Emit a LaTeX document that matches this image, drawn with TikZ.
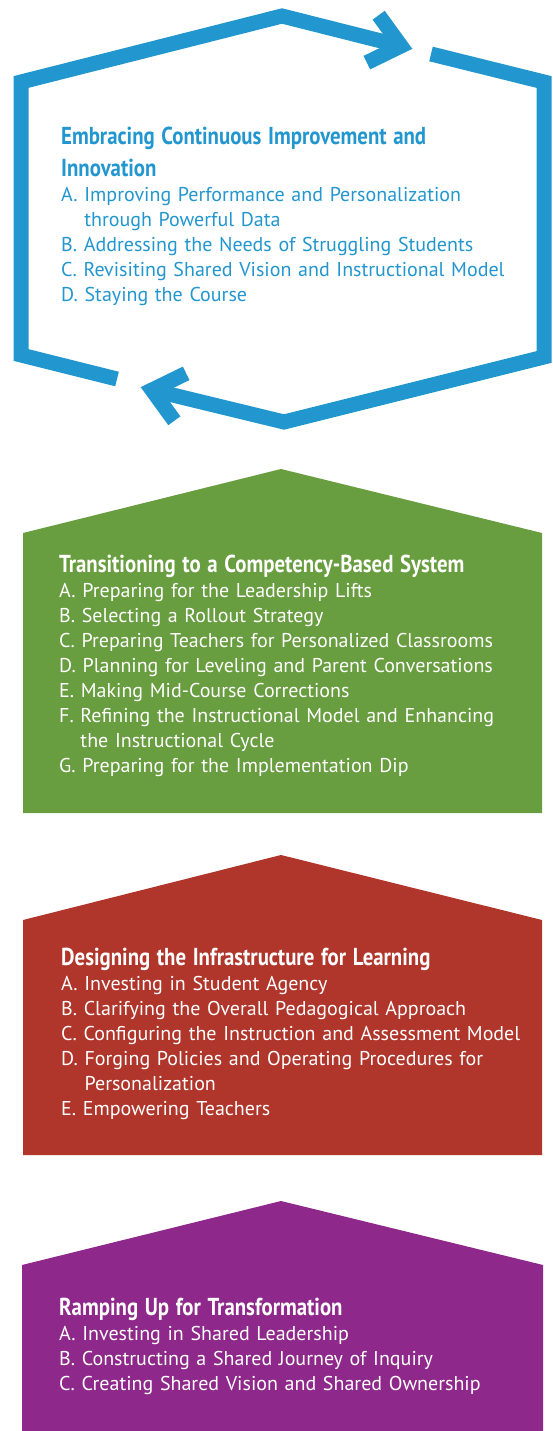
\documentclass[tikz,border=0pt]{standalone}
\usepackage{fontspec}
\setmainfont{PT Sans}
\newfontfamily\headfont[FakeStretch=0.85]{PT Sans}
\usetikzlibrary{calc}
\definecolor{cyclebl}{RGB}{34,150,206}
\definecolor{phasegr}{RGB}{104,157,64}
\definecolor{phasered}{RGB}{176,53,42}
\definecolor{phasepu}{RGB}{142,40,138}
\newcommand{\phasehead}[1]{{\headfont\bfseries\fontsize{24.5}{32}\selectfont #1\par}}
\newcommand{\indentas}[1]{\hphantom{#1 }}
\frenchspacing
\begin{document}
\begin{tikzpicture}[x=1pt,y=-1pt,
	cycle line/.style = {draw=cyclebl, line width=15pt, line join=miter},
	phase text/.style = {anchor=base west, inner sep=0pt, text width=485pt, align=left,
		font=\fontsize{20}{25}\selectfont}]
	\useasboundingbox (0,0) rectangle (553,1431);
	
	\coordinate (tip1) at (401,46);
	\coordinate (tip2) at (152,390);
	\draw[cycle line] (117,379) -- (21,355) -- (21,82) -- (282,16) -- (tip1);
	\draw[cycle line] ($(tip1)+(154:38)$) -- (tip1) -- ($(tip1)+(234:38)$);
	\draw[cycle line] (431,54) -- (544,82) -- (544,357) -- (284,422) -- (tip2);
	\draw[cycle line] ($(tip2)+(54:38)$) -- (tip2) -- ($(tip2)+(-26:38)$);
	
	\fill[phasegr] (23,533) -- (281,469) -- (542,533) -- (542,813) -- (23,813) -- cycle;
	\fill[phasered] (23,920) -- (281,855) -- (542,920) -- (542,1155) -- (23,1155) -- cycle;
	\fill[phasepu] (22,1265) -- (281,1201) -- (543,1265) -- (543,1431) -- (22,1431) -- cycle;
	
	\node[phase text,text=cyclebl] (4) at (61,145) {\phasehead{Embracing Continuous Improvement and\\Innovation}
		A. Improving Performance and Personalization\\\indentas{A.}through Powerful Data\\
		B. Addressing the Needs of Struggling Students\\
		C. Revisiting Shared Vision and Instructional Model\\
		D. Staying the Course};
	\node[phase text,text=white] (3) at (59,572) {\phasehead{Transitioning to a Competency-Based System}
		A. Preparing for the Leadership Lifts\\
		B. Selecting a Rollout Strategy\\
		C. Preparing Teachers for Personalized Classrooms\\
		D. Planning for Leveling and Parent Conversations\\
		E. Making Mid-Course Corrections\\
		F. Refining the Instructional Model and Enhancing\\\indentas{F.}the Instructional Cycle\\
		G. Preparing for the Implementation Dip};
	\node[phase text,text=white] (2) at (61,965) {\phasehead{Designing the Infrastructure for Learning}
		A. Investing in Student Agency\\
		B. Clarifying the Overall Pedagogical Approach\\
		C. Configuring the Instruction and Assessment Model\\
		D. Forging Policies and Operating Procedures for\\\indentas{D.}Personalization\\
		E. Empowering Teachers};
	\node[phase text,text=white] (1) at (59,1315) {\phasehead{Ramping Up for Transformation}
		A. Investing in Shared Leadership\\
		B. Constructing a Shared Journey of Inquiry\\
		C. Creating Shared Vision and Shared Ownership};
\end{tikzpicture}
\end{document}
